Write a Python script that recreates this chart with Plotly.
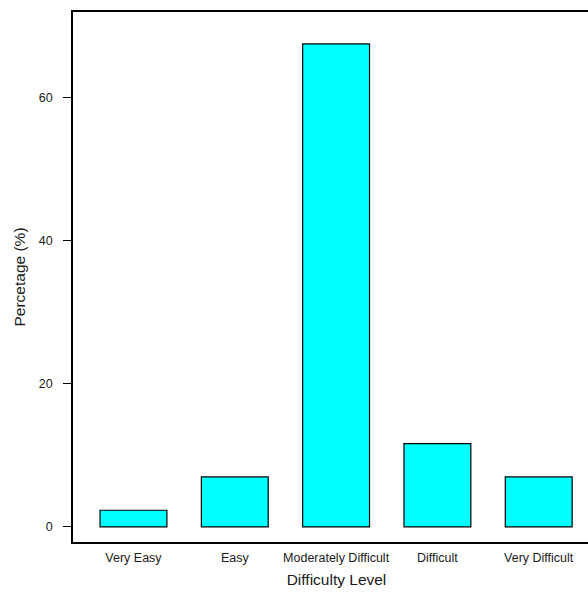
import plotly.graph_objects as go

categories = ["Very Easy", "Easy", "Moderately Difficult", "Difficult", "Very Difficult"]
percentages = [2.33, 6.98, 67.44, 11.63, 6.98]
y_ticks = [0, 20, 40, 60]

fig = go.Figure(
    go.Bar(
        x=categories,
        y=percentages,
        width=0.66,
        marker=dict(color="#00FFFF", line=dict(color="#000000", width=1.2)),
    )
)

fig.update_layout(
    width=600,
    height=594,
    margin=dict(l=73, r=0, t=12, b=52),
    paper_bgcolor="white",
    plot_bgcolor="white",
    showlegend=False,
    font=dict(family="Liberation Sans, Arial, sans-serif", color="#1a1a1a"),
)

fig.update_xaxes(
    range=[-0.597, 4.605],
    showline=True,
    linecolor="black",
    linewidth=1.5,
    mirror=True,
    ticks="",
    showgrid=False,
    tickfont=dict(size=12.5),
    ticklabelstandoff=3,
    title=dict(text="Difficulty Level", font=dict(size=15.5), standoff=10),
)

fig.update_yaxes(
    range=[-2.1, 71.9],
    tickvals=y_ticks,
    showline=True,
    linecolor="black",
    linewidth=1.5,
    ticks="outside",
    ticklen=8,
    tickwidth=1.2,
    tickcolor="black",
    showgrid=False,
    zeroline=False,
    tickfont=dict(size=12.5),
    ticklabelstandoff=8,
    title=dict(text="Percetage (%)", font=dict(size=15.5), standoff=9),
)

fig.write_html(
    "out.html",
    config={"displayModeBar": False},
    post_script="document.body.style.margin='0';document.body.style.overflow='hidden';",
)
